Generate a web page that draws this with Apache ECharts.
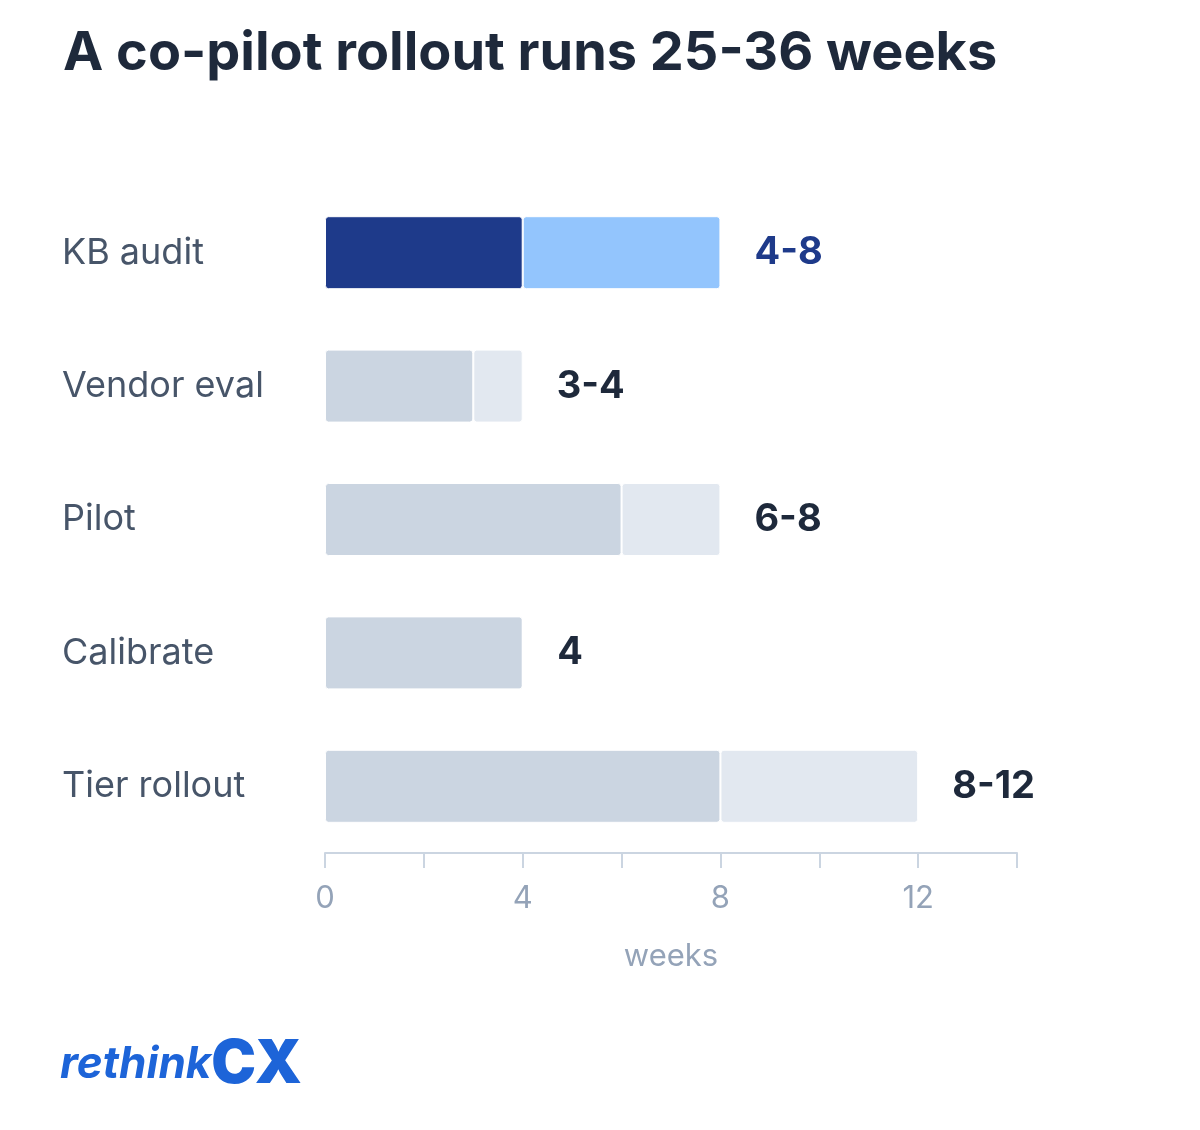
<!DOCTYPE html>
<html>
<head>
<meta charset="utf-8">
<script src="https://cdn.jsdelivr.net/npm/echarts@6/dist/echarts.min.js"></script>
<style>html,body{margin:0;background:#fff}#c{width:1200px;height:1130px}</style>
</head>
<body>
<div id="c"></div>
<script>
var phases = ['KB audit', 'Vendor eval', 'Pilot', 'Calibrate', 'Tier rollout'];
var minWeeks = [4, 3, 6, 4, 8];
var maxWeeks = [8, 4, 8, 4, 12];
var rangeLabels = ['4-8', '3-4', '6-8', '4', '8-12'];
var axisTicks = [0, 4, 8, 12];

var font = 'Inter, "Noto Sans", sans-serif';
var chart = echarts.init(document.getElementById('c'));

var baseData = minWeeks.map(function (v, i) {
  return { value: v, itemStyle: { color: i === 0 ? '#1e3a8a' : '#cbd5e1' } };
});
var extraData = maxWeeks.map(function (v, i) {
  return {
    value: v - minWeeks[i],
    itemStyle: { color: i === 0 ? '#93c5fd' : '#e2e8f0' },
    label: { color: i === 0 ? '#1e3a8a' : '#1e293b' }
  };
});

chart.setOption({
  animation: false,
  title: {
    text: 'A co-pilot rollout runs 25-36 weeks',
    left: 58, top: 22,
    textStyle: { fontFamily: font, fontSize: 54, fontWeight: 'bold', color: '#1e293b' }
  },
  grid: { left: 325, right: 183, top: 186, bottom: 277 },
  xAxis: {
    type: 'value', min: 0, max: 14, interval: 2,
    name: 'weeks', nameLocation: 'middle', nameGap: 88,
    nameTextStyle: { fontFamily: font, fontSize: 31, color: '#94a3b8' },
    axisLine: { show: true, lineStyle: { color: '#cbd5e1', width: 2 } },
    axisTick: { show: true, length: 15, lineStyle: { color: '#cbd5e1', width: 2 } },
    splitLine: { show: false },
    axisLabel: {
      fontFamily: font, fontSize: 31, color: '#94a3b8', margin: 30,
      formatter: function (v) { return axisTicks.indexOf(v) >= 0 ? String(v) : ''; }
    }
  },
  yAxis: {
    type: 'category', data: phases, inverse: true,
    axisLine: { show: false }, axisTick: { show: false },
    axisLabel: { align: 'left', margin: 263, fontFamily: font, fontSize: 36, color: '#475569' }
  },
  series: [
    {
      type: 'bar', stack: 'w', barWidth: 73, data: baseData,
      itemStyle: { borderRadius: 3, borderColor: '#fff', borderWidth: 1 }
    },
    {
      type: 'bar', stack: 'w', barWidth: 73, data: extraData,
      itemStyle: { borderRadius: 3, borderColor: '#fff', borderWidth: 1 },
      label: {
        show: true, position: 'right', distance: 34,
        fontFamily: font, fontSize: 38, fontWeight: 'bold',
        formatter: function (p) { return rangeLabels[p.dataIndex]; }
      }
    }
  ],
  graphic: [{
    type: 'text', left: 60, top: 1035,
    style: {
      text: '{a|rethink}{b|CX}',
      rich: {
        a: { fontFamily: font, fontSize: 44, fontWeight: 'bold', fontStyle: 'italic', fill: '#1d64d8' },
        b: { fontFamily: font, fontSize: 60, fontWeight: 900, fill: '#1d64d8' }
      }
    }
  }]
});
</script>
</body>
</html>
